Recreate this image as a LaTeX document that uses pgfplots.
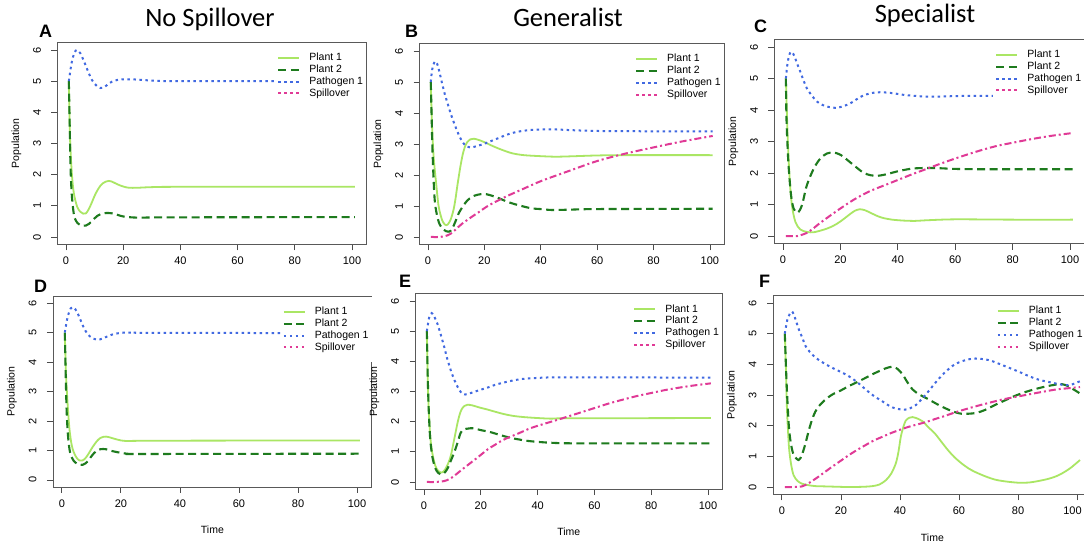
\documentclass[border=0pt]{standalone}
\usepackage{fontspec}
\setmainfont{Liberation Sans}
\newfontfamily\titlefont{Carlito}
\usepackage{pgfplots}
\pgfplotsset{compat=1.18}
\definecolor{cA}{HTML}{AAE664}
\definecolor{cB}{HTML}{1E7B1E}
\definecolor{cC}{HTML}{4169E1}
\definecolor{cD}{HTML}{E03A96}
\pgfplotsset{
  rplot/.style={
    scale only axis,
    xmin=-3, xmax=105, ymin=-0.24, ymax=6.24,
    xtick={0,20,40,60,80,100}, ytick={0,1,2,3,4,5,6},
    tick pos=left, tick align=outside,
    major tick length=6pt,
    tick style={black!70, line width=0.8pt},
    axis line style={black!65, line width=0.9pt},
    /pgf/number format/assume math mode=true,
    ticklabel style={font=\fontsize{11}{13}\selectfont},
    yticklabel style={rotate=90, anchor=south},
    yticklabel shift=7pt, xticklabel shift=3pt,
    every axis y label/.style={at={(axis description cs:0,0.5)}, xshift=-41pt, rotate=90, anchor=center, font=\fontsize{10.5}{12}\selectfont},
    every axis x label/.style={at={(axis description cs:0.5,0)}, yshift=-43pt, anchor=center, font=\fontsize{10.5}{12}\selectfont},
    ylabel={Population},
    no markers,
    legend cell align=left,
    legend image code/.code={\draw[##1] (0pt,0pt) -- (21pt,0pt);},
    legend style={at={(1,1)}, anchor=north east, yshift=-0.6pt, draw=none, fill=white,
      font=\fontsize{10.5}{12}\selectfont, inner xsep=2pt, inner ysep=9pt, row sep=0.3pt, column sep=8pt,
      nodes={inner sep=1pt, text height=7.5pt, text depth=2pt}},
  },
  p1/.style={color=cA, line width=1.8pt, smooth},
  p2/.style={color=cB, line width=2.1pt, dash pattern=on 8pt off 4.5pt, smooth},
  p3/.style={color=cC, line width=2pt, dash pattern=on 2.5pt off 3.5pt, smooth},
  p4/.style={color=cD, line width=2pt, dash pattern=on 7pt off 3pt on 2pt off 3pt, smooth, legend image post style={dash pattern=on 2.5pt off 3.5pt}},
}
\begin{document}
\begin{tikzpicture}
\path[use as bounding box] (0,0) rectangle (1084pt,546pt);
\fill[white] (0,0) rectangle (1084pt,546pt);
\clip (0,0) rectangle (1084pt,546pt);

% titles
\node[anchor=base, inner sep=0, font=\titlefont\fontsize{26.5}{30}\selectfont] at (210pt,519pt) {No Spillover};
\node[anchor=base, inner sep=0, font=\titlefont\fontsize{26.5}{30}\selectfont] at (568pt,519pt) {Generalist};
\node[anchor=base, inner sep=0, font=\titlefont\fontsize{26.5}{30}\selectfont] at (925pt,523pt) {Specialist};
% panel letters
\node[anchor=base west, inner sep=0, font=\bfseries\fontsize{18}{20}\selectfont] at (39pt,508pt) {A};
\node[anchor=base west, inner sep=0, font=\bfseries\fontsize{18}{20}\selectfont] at (405pt,508pt) {B};
\node[anchor=base west, inner sep=0, font=\bfseries\fontsize{18}{20}\selectfont] at (754pt,513pt) {C};
\node[anchor=base west, inner sep=0, font=\bfseries\fontsize{18}{20}\selectfont] at (34pt,253pt) {D};
\node[anchor=base west, inner sep=0, font=\bfseries\fontsize{18}{20}\selectfont] at (399pt,258pt) {E};
\node[anchor=base west, inner sep=0, font=\bfseries\fontsize{18}{20}\selectfont] at (759pt,258pt) {F};

% ---------------- A
\begin{axis}[rplot, at={(57.4pt,301.5pt)}, anchor=south west, width=308.9pt, height=202pt]
\addplot[p1] coordinates {(1,5) (1.4,3.2) (2,2.1) (2.6,1.5) (3.2,1.2) (4,0.95) (5,0.81) (6,0.75) (7,0.76) (8,0.9) (9,1.1) (10,1.32) (11,1.5) (12,1.64) (13,1.73) (14,1.78) (15,1.8) (16,1.78) (18,1.69) (20,1.62) (22,1.58) (25,1.58) (30,1.6) (40,1.61) (101,1.61)};
\addplot[p2] coordinates {(1,5) (1.3,3.6) (1.6,2.2) (2,1.4) (2.5,0.9) (3,0.62) (4,0.45) (5,0.38) (6,0.36) (7,0.37) (8,0.42) (9,0.5) (10,0.6) (11,0.68) (12,0.73) (14,0.77) (16,0.76) (18,0.71) (20,0.66) (23,0.63) (27,0.62) (35,0.63) (101,0.64)};
\addplot[p3] coordinates {(1,5.0) (2,5.6) (3,5.92) (3.8,6.0) (5,5.9) (6,5.7) (7,5.48) (8,5.25) (9,5.05) (10,4.92) (11,4.83) (12,4.78) (13,4.79) (14,4.85) (15,4.92) (16,4.98) (18,5.04) (20,5.06) (22,5.06) (25,5.05) (30,5.02) (40,5.0) (101,5.0)};
\addlegendimage{p4}
\legend{Plant 1,Plant 2,Pathogen 1,Spillover}
\end{axis}

% ---------------- B
\begin{axis}[rplot, at={(419.5pt,301.6pt)}, anchor=south west, width=304.5pt, height=200.8pt]
\addplot[p1] coordinates {(1,5) (1.4,3.7) (2,2.6) (2.9,1.73) (3.8,0.98) (5,0.55) (6,0.4) (6.5,0.38) (7,0.4) (8,0.55) (9,0.85) (9.7,1.19) (10.5,1.7) (11.5,2.27) (12.3,2.65) (13.1,2.91) (14,3.07) (15,3.15) (16.3,3.17) (18,3.13) (20,3.06) (22.8,2.94) (26,2.82) (29.9,2.7) (34,2.64) (39.4,2.61) (45,2.59) (50,2.6) (60,2.63) (70,2.64) (101,2.64)};
\addplot[p2] coordinates {(1,5) (1.3,3.9) (1.6,2.8) (2.4,1.19) (3.8,0.49) (5.6,0.23) (7.4,0.17) (8.5,0.25) (9.7,0.49) (11,0.78) (12.7,1.03) (14,1.18) (15.7,1.3) (17.5,1.36) (19.8,1.39) (22,1.35) (25.2,1.25) (28,1.14) (31.1,1.05) (34,0.98) (37,0.92) (40,0.9) (44,0.87) (50,0.88) (60,0.9) (101,0.91)};
\addplot[p3] coordinates {(1,5.0) (1.5,5.4) (2.4,5.66) (3.2,5.6) (4,5.35) (5,4.96) (6,4.6) (7,4.3) (8,4.0) (9,3.74) (10,3.5) (11,3.28) (12,3.1) (13,2.98) (14,2.91) (15,2.89) (16,2.9) (18,2.95) (20,3.01) (22,3.08) (25,3.19) (28,3.3) (31,3.38) (35,3.44) (40,3.47) (45,3.47) (50,3.45) (60,3.42) (80,3.41) (101,3.41)};
\addplot[p4] coordinates {(1,0) (4,0) (6.2,0.03) (8,0.1) (9.7,0.23) (12,0.42) (15.7,0.66) (18,0.8) (21.6,1.02) (27.6,1.3) (33.5,1.54) (40,1.8) (50,2.13) (60,2.45) (70,2.69) (80,2.89) (90,3.08) (101,3.26)};
\legend{Plant 1,Plant 2,Pathogen 1,Spillover}
\end{axis}

% ---------------- C
\begin{axis}[rplot, at={(774.4pt,302.4pt)}, anchor=south west, width=310pt, height=204.2pt]
\addplot[p1] coordinates {(1,5) (1.6,3.2) (2.3,1.83) (3.1,0.98) (4.3,0.45) (6,0.21) (8.3,0.13) (10.7,0.12) (14.1,0.2) (16.5,0.28) (18.8,0.39) (21,0.53) (23.4,0.7) (25,0.8) (26.7,0.85) (28.5,0.82) (30.4,0.74) (33,0.63) (35,0.57) (38,0.52) (42,0.49) (46,0.48) (50,0.5) (60,0.53) (80,0.52) (101,0.52)};
\addplot[p2] coordinates {(1,5) (1.2,3.74) (1.6,2.8) (2,2.14) (2.8,1.3) (3.7,0.87) (5.1,0.74) (6.6,0.98) (8.3,1.61) (10.7,2.14) (13,2.46) (15.3,2.62) (17.6,2.65) (19.5,2.6) (21.1,2.51) (24.6,2.25) (28,2.01) (30.5,1.93) (32.7,1.91) (35,1.94) (37.3,1.99) (40.2,2.06) (45,2.14) (50,2.16) (55,2.15) (60,2.13) (70,2.12) (101,2.12)};
\addplot[p3] coordinates {(1,5) (1.6,5.5) (2.4,5.8) (3.1,5.84) (4,5.7) (5,5.45) (6,5.22) (7,4.97) (8.3,4.69) (10,4.46) (11.8,4.27) (13.5,4.17) (15.3,4.11) (17,4.08) (18.8,4.07) (21,4.12) (23.4,4.21) (26,4.36) (28,4.46) (30.5,4.53) (32.7,4.56) (35,4.56) (38.5,4.53) (42,4.48) (47,4.44) (52,4.42) (60,4.44) (70,4.45) (101,4.45)};
\addplot[p4] coordinates {(1,0) (5,0) (8.3,0.1) (10,0.2) (13,0.42) (18.8,0.8) (24.6,1.15) (30.4,1.43) (36.2,1.64) (40,1.78) (45,1.96) (50,2.13) (55,2.3) (60,2.46) (65,2.61) (70,2.75) (75,2.87) (80,2.96) (85,3.05) (90,3.13) (95,3.2) (101,3.27)};
\legend{Plant 1,Plant 2,Pathogen 1,Spillover}
\end{axis}

% ---------------- D
\begin{axis}[rplot, at={(53pt,59pt)}, anchor=south west, width=318.8pt, height=191pt, xlabel={Time}, legend style={yshift=-0.5pt}]
\addplot[p1] coordinates {(1,5) (1.4,3.6) (2,2.5) (2.6,1.7) (3.3,1.2) (4,0.95) (5,0.75) (6,0.66) (7,0.66) (8,0.74) (9,0.88) (10,1.05) (11,1.2) (12,1.33) (13,1.42) (14,1.46) (15,1.47) (16,1.45) (18,1.39) (20,1.34) (22,1.32) (25,1.32) (30,1.33) (101,1.34)};
\addplot[p2] coordinates {(1,5) (1.3,3.6) (1.6,2.4) (2,1.6) (2.5,1.1) (3,0.85) (4,0.65) (5,0.56) (6,0.52) (7,0.51) (8,0.56) (9,0.66) (10,0.8) (11,0.92) (12,1.0) (13,1.04) (14,1.05) (15,1.04) (17,0.98) (20,0.92) (23,0.88) (27,0.88) (101,0.89)};
\addplot[p3] coordinates {(1,5) (2,5.55) (3,5.82) (3.6,5.86) (4.5,5.8) (5.5,5.62) (6.5,5.38) (7.5,5.15) (8.5,4.98) (9.5,4.87) (10.5,4.8) (12,4.76) (13,4.77) (15,4.85) (17,4.93) (20,4.99) (25,5.0) (30,4.99) (101,4.98)};
\addlegendimage{p4}
\legend{Plant 1,Plant 2,Pathogen 1,Spillover}
\end{axis}

% ---------------- E
\begin{axis}[rplot, at={(415.5pt,56.8pt)}, anchor=south west, width=306.7pt, height=195.4pt, xlabel={Time}]
\addplot[p1] coordinates {(1,5) (1.4,3.05) (2.1,1.63) (2.9,0.97) (4,0.53) (5,0.37) (5.9,0.31) (7,0.36) (8.2,0.55) (9.4,0.86) (10.6,1.4) (11.8,1.96) (12.5,2.22) (13.2,2.4) (14.2,2.52) (15.3,2.56) (17,2.54) (19.5,2.47) (22.4,2.4) (25,2.33) (28.2,2.25) (31.5,2.19) (35.3,2.15) (40,2.12) (44.7,2.1) (50,2.11) (101,2.12)};
\addplot[p2] coordinates {(1,5) (1.3,3.5) (1.7,2.3) (2.2,1.4) (3,0.8) (4,0.45) (5,0.3) (5.9,0.25) (7,0.28) (8.3,0.45) (9.5,0.72) (10.6,0.97) (11.8,1.3) (12.9,1.63) (14,1.74) (15.5,1.77) (17.1,1.78) (20,1.72) (23.5,1.65) (27,1.55) (30.6,1.46) (34,1.4) (37.6,1.35) (44.7,1.3) (55,1.28) (101,1.28)};
\addplot[p3] coordinates {(1,5) (1.8,5.45) (2.7,5.6) (3.5,5.5) (4.7,5.25) (6,4.85) (7.1,4.48) (8.2,4.08) (9.4,3.71) (10.6,3.4) (11.8,3.16) (12.8,3.0) (13.5,2.92) (14.5,2.9) (16.5,2.95) (19,3.03) (22.4,3.13) (25,3.22) (28.2,3.3) (31,3.36) (34.1,3.41) (38,3.44) (42.4,3.46) (50,3.47) (101,3.46)};
\addplot[p4] coordinates {(1,0) (4,0) (7.1,0.03) (9,0.1) (10.6,0.2) (13.5,0.42) (16.5,0.64) (19.5,0.86) (22.4,1.08) (25.3,1.25) (28.2,1.41) (33,1.6) (38,1.8) (45.9,2.03) (50,2.15) (55,2.3) (60,2.45) (65,2.6) (70,2.73) (75,2.85) (80,2.95) (85,3.05) (90,3.13) (95,3.2) (101,3.27)};
\legend{Plant 1,Plant 2,Pathogen 1,Spillover}
\end{axis}

% ---------------- F
\begin{axis}[rplot, at={(773pt,51.6pt)}, anchor=south west, width=318.8pt, height=198.8pt, xlabel={Time}, legend style={xshift=-6pt},
  xticklabels={0,20,40,60,80,\kern-9pt 100}]
\addplot[p1] coordinates {(1,5) (1.4,3.8) (1.7,2.63) (2.1,1.8) (2.5,1.2) (3.2,0.7) (4,0.38) (5.3,0.2) (6.8,0.11) (9,0.06) (11.4,0.03) (15,0.02) (22.7,0.0) (28,0.01) (30.7,0.03) (33,0.08) (35.2,0.22) (37,0.43) (38.6,0.77) (39.5,1.15) (40.3,1.64) (41.2,1.97) (42,2.17) (43.2,2.26) (44.3,2.28) (45.5,2.25) (47.7,2.14) (49.5,1.96) (51.8,1.75) (54,1.48) (56.3,1.2) (58.6,0.96) (60.9,0.77) (63.2,0.61) (65.5,0.49) (68.9,0.35) (72.3,0.24) (76,0.18) (80.3,0.14) (84,0.15) (87.1,0.2) (90,0.26) (92.9,0.35) (95.2,0.46) (97.5,0.6) (99.3,0.74) (101,0.88)};
\addplot[p2] coordinates {(1,5) (1.6,3.4) (2.3,2.08) (3,1.45) (4,1.05) (5.7,0.88) (6.8,1.05) (8,1.42) (9,1.8) (10.2,2.19) (11.3,2.45) (12.5,2.63) (14.5,2.83) (17,3.01) (20,3.15) (22.7,3.29) (25.5,3.42) (28.4,3.56) (31,3.69) (33,3.78) (35.5,3.88) (37.5,3.92) (39.2,3.85) (40.9,3.67) (42.5,3.42) (44.3,3.18) (46.5,3.02) (48.9,2.9) (51.5,2.76) (54,2.63) (57.5,2.48) (60.9,2.39) (65.5,2.41) (69,2.52) (72.3,2.68) (75.7,2.83) (79.2,2.98) (82.6,3.1) (86.1,3.2) (89.5,3.28) (92.9,3.34) (95,3.35) (96.3,3.32) (98.5,3.2) (101,3.05)};
\addplot[p3] coordinates {(1,5) (2,5.5) (3.4,5.72) (4.5,5.5) (5.7,5.15) (7,4.85) (8,4.6) (9.5,4.4) (11.4,4.22) (14,4.05) (17,3.89) (20,3.75) (22.7,3.61) (25.5,3.42) (28.4,3.18) (31,2.98) (34.1,2.79) (36.5,2.64) (38.6,2.56) (41.5,2.52) (43.5,2.57) (45.5,2.68) (47.2,2.85) (48.3,2.96) (50.5,3.22) (52.9,3.5) (55.5,3.76) (58.6,4.0) (62,4.13) (65.5,4.19) (70,4.14) (73.5,4.02) (76.9,3.89) (80.5,3.75) (83.8,3.61) (87,3.5) (90.6,3.42) (93.5,3.36) (96.3,3.32) (98.5,3.35) (101,3.45)};
\addplot[p4] coordinates {(1,0) (4,0) (6.8,0.02) (9,0.12) (11.4,0.27) (14,0.45) (17,0.66) (20,0.86) (22.7,1.04) (25.5,1.21) (28.4,1.37) (31,1.51) (34.1,1.64) (37,1.76) (39.8,1.86) (42.5,1.95) (45.5,2.03) (48.9,2.12) (52,2.22) (55,2.31) (58.6,2.43) (62,2.53) (66,2.64) (70,2.74) (75,2.86) (81.5,2.98) (87,3.08) (92.9,3.18) (97,3.22) (101,3.26)};
\legend{Plant 1,Plant 2,Pathogen 1,Spillover}
\end{axis}
\end{tikzpicture}
\end{document}
